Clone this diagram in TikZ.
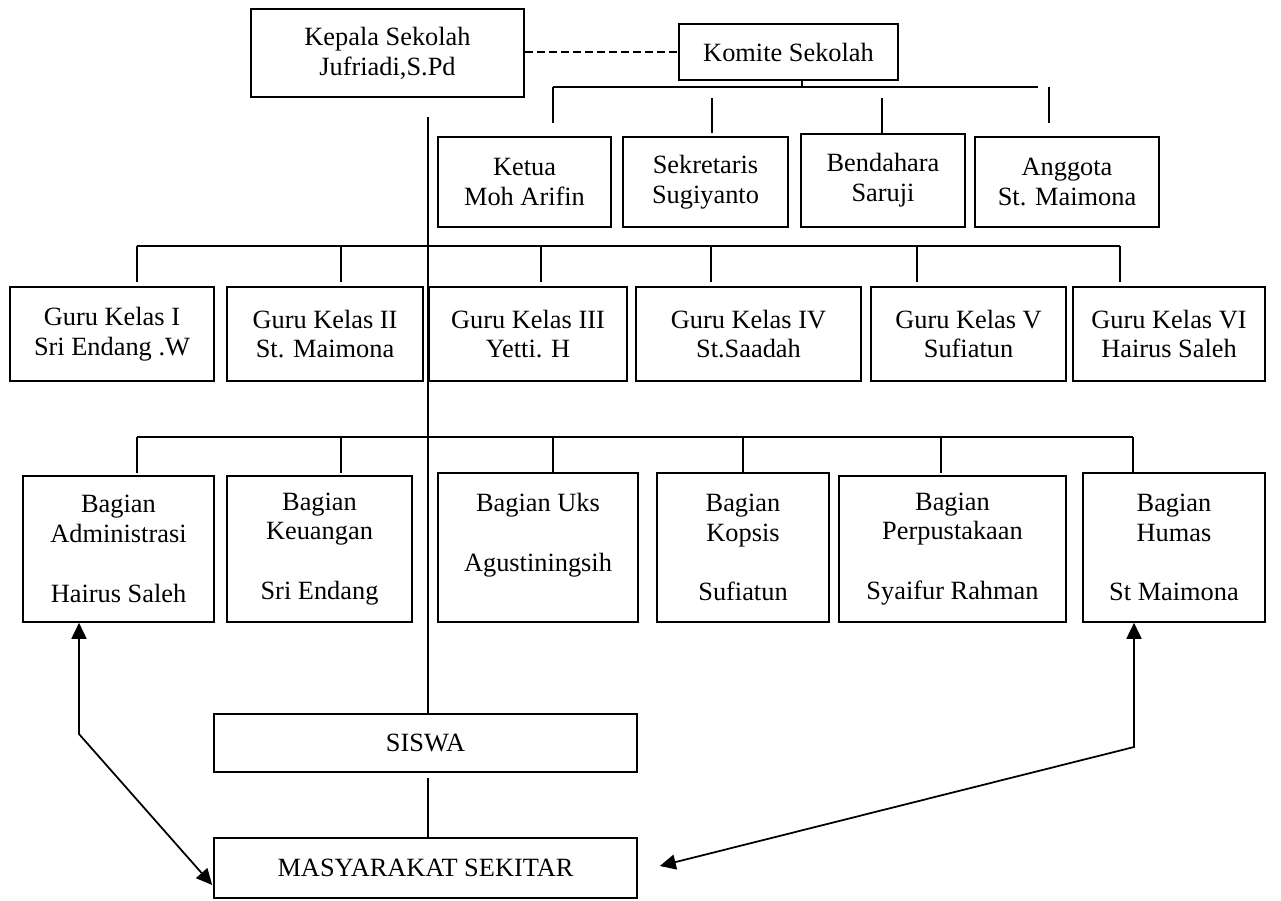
\documentclass[tikz,border=0pt]{standalone}
\usepackage{fontspec}
\setmainfont{Liberation Serif}
\usetikzlibrary{arrows.meta,calc}

\begin{document}
\begin{tikzpicture}[x=0.2mm,y=-0.2mm,
	unit/.style={draw,line width=0.9pt,align=center,inner sep=0pt,font=\fontsize{15}{17}\selectfont},
	link/.style={line width=0.9pt},
	both/.style={line width=1pt,{Triangle[length=3.2mm,width=3mm]}-{Triangle[length=3.2mm,width=3mm]}}]
	\useasboundingbox (0,0) rectangle (1281,900);

	\node[unit,minimum width=54.6mm,minimum height=17.6mm] (kepala) at (387.5,53) {Kepala Sekolah\\Jufriadi,S.Pd};
	\node[unit,minimum width=43.8mm,minimum height=11.2mm] (komite) at (788.5,52) {Komite Sekolah};
	\draw[link,dash pattern=on 1.6mm off 0.8mm] (kepala.east |- komite.west) -- (komite.west);

	\node[unit,minimum width=34.6mm,minimum height=18mm] (ketua) at (524.5,182) {Ketua\\Moh Arifin};
	\node[unit,minimum width=33mm,minimum height=18mm] (sekretaris) at (705.5,182) {Sekretaris\\Sugiyanto};
	\node[unit,minimum width=32.8mm,minimum height=18.6mm] (bendahara) at (883,180.5) {Bendahara\\Saruji};
	\node[unit,minimum width=36.8mm,minimum height=18mm] (anggota) at (1067,182) {Anggota\\St. Maimona};

	\coordinate (kstem) at (802,87);
	\draw[link] (kstem |- komite.south) -- (kstem);
	\draw[link] (553,87) -- (1038,87);
	\foreach \x/\a/\b in {553/87/123,712/98/133,882/98/133,1049/87/123}
		\draw[link] (\x,\a) -- (\x,\b);

	\foreach \n/\x/\w/\t in {guruI/112/40.8/{Guru Kelas I\\Sri Endang .W},
		guruII/325/39.2/{Guru Kelas II\\St. Maimona},
		guruIII/528/39.6/{Guru Kelas III\\Yetti. H},
		guruIV/748.5/45/{Guru Kelas IV\\St.Saadah},
		guruV/968.5/39/{Guru Kelas V\\Sufiatun},
		guruVI/1169/38.4/{Guru Kelas VI\\Hairus Saleh}}
		\node[unit,minimum width=\w mm,minimum height=18.8mm] (\n) at (\x,334) {\t};
	\draw[link] (137,246) -- (1120,246);
	\foreach \x in {137,341,541,711,917,1120}
		\draw[link] (\x,246) -- (\x,282);

	\foreach \n/\x/\y/\w/\h/\t in {adm/118.5/549/38.2/29.2/{Bagian\\Administrasi\\[17pt]Hairus Saleh},
		keu/319.5/549/37/29.2/{Bagian\\Keuangan\\[17pt]Sri Endang},
		uks/538/547.5/40/29.8/{Bagian Uks\\[17pt]Agustiningsih\\\mbox{}},
		kopsis/743/547.5/34.4/29.8/{Bagian\\Kopsis\\[17pt]Sufiatun},
		perpus/952.5/549/45.4/29.2/{Bagian\\Perpustakaan\\[17pt]Syaifur Rahman},
		humas/1174/547.5/36.4/29.8/{Bagian\\Humas\\[17pt]St Maimona}}
		\node[unit,minimum width=\w mm,minimum height=\h mm] (\n) at (\x,\y) {\t};
	\draw[link] (137,437) -- (1133,437);
	\foreach \x in {137,341,553,743,941,1133}
		\draw[link] (\x,437) -- (\x,473);

	\node[unit,minimum width=84.6mm,minimum height=11.6mm] (siswa) at (425.5,743) {SISWA};
	\node[unit,minimum width=84.6mm,minimum height=12mm] (masy) at (425.5,868) {MASYARAKAT SEKITAR};

	\coordinate (spine) at (428,117);
	\draw[link] (spine) -- (spine |- siswa.north);
	\draw[link] ($(siswa.south -| spine)+(0,5)$) -- (spine |- masy.north);

	\coordinate (lbend) at (79,734);
	\coordinate (rbend) at (1134,747);
	\draw[both] (lbend |- adm.south) -- (lbend) -- ($(masy.west)+(-1,17)$);
	\draw[both] (rbend |- humas.south) -- (rbend) -- ($(masy.east)+(22,-2)$);
\end{tikzpicture}
\end{document}
